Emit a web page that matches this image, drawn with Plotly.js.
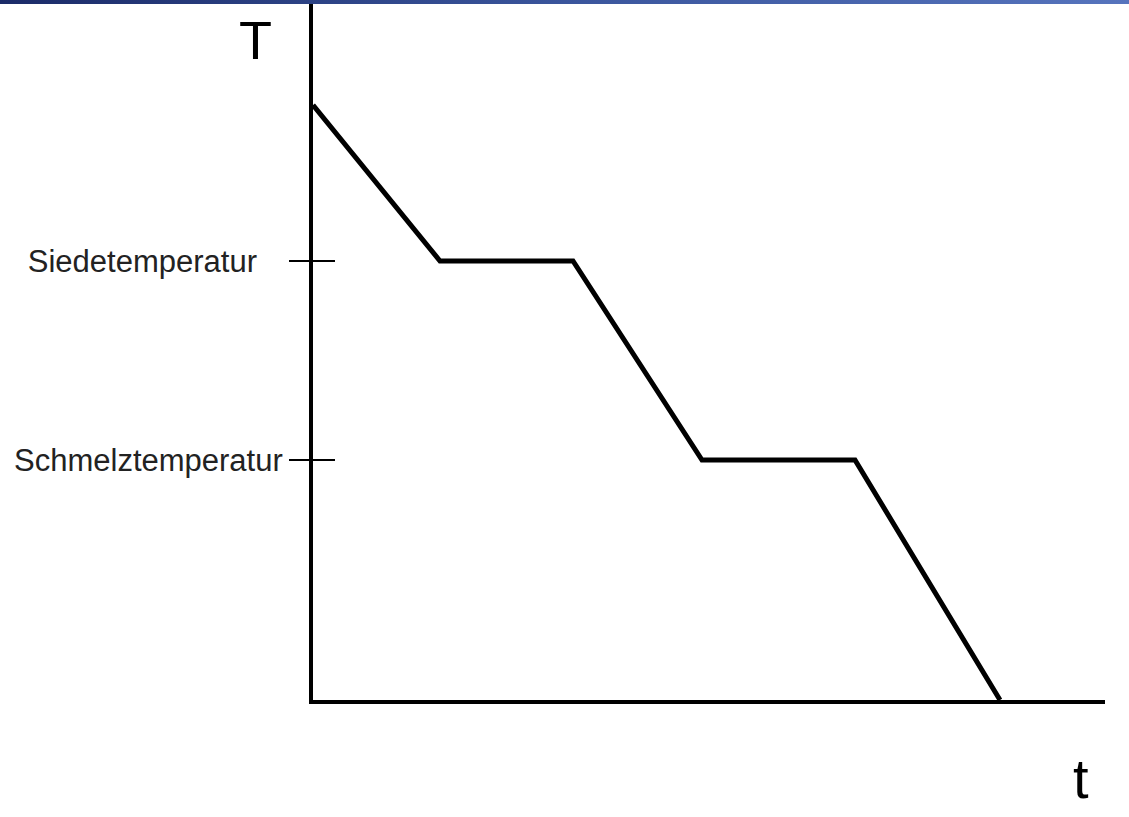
<!DOCTYPE html>
<html>
<head>
<meta charset="utf-8">
<script src="https://cdn.plot.ly/plotly-3.0.1.min.js"></script>
<style>
  html, body { margin: 0; padding: 0; background: #ffffff; }
  #bar { position: absolute; left: 0; top: 0; width: 1129px; height: 4px;
         background: linear-gradient(to right, #1b2b68, #3a559c 50%, #5674bd); z-index: 5; }
  #chart { position: absolute; left: 0; top: 0; width: 1129px; height: 817px; }
</style>
</head>
<body>
<div id="bar"></div>
<div id="chart"></div>
<script>
// Schematic cooling curve (arbitrary units)
const timeValues = [0, 12.7, 26.0, 38.9, 54.2, 68.7];
const tempValues = [59.5, 43.9, 43.9, 24.0, 24.0, 0];
const tickValues = [43.9, 24.0];
const tickLabels = ['Siedetemperatur\u00a0\u00a0\u00a0', 'Schmelztemperatur'];
const xAxisLabel = 't';
const yAxisLabel = 'T';

const FONT = 'Arial, "Liberation Sans", sans-serif';

const trace = {
  x: timeValues,
  y: tempValues,
  mode: 'lines',
  line: { color: '#000000', width: 5 },
  cliponaxis: false,
  hoverinfo: 'skip'
};

const layout = {
  width: 1129,
  height: 817,
  margin: { l: 313, r: 24, t: 4, b: 117 },
  paper_bgcolor: '#ffffff',
  plot_bgcolor: '#ffffff',
  showlegend: false,
  xaxis: {
    range: [0, 79.2],
    showline: true, linecolor: '#000000', linewidth: 4,
    showgrid: false, zeroline: false,
    showticklabels: false, ticks: ''
  },
  yaxis: {
    range: [0, 69.6],
    showline: true, linecolor: '#000000', linewidth: 4,
    showgrid: false, zeroline: false,
    tickmode: 'array', tickvals: tickValues, ticktext: tickLabels,
    ticks: 'outside', ticklen: 20, tickwidth: 2, tickcolor: '#000000',
    ticklabelstandoff: 0,
    tickfont: { family: FONT, size: 31, color: '#222222' },
    minor: { tickmode: 'array', tickvals: tickValues, ticks: 'inside', ticklen: 22, tickwidth: 2, tickcolor: '#000000', showgrid: false }
  },
  annotations: [
    { text: yAxisLabel, xref: 'paper', yref: 'paper', x: -0.0732, y: 0.948,
      xanchor: 'center', yanchor: 'middle', showarrow: false,
      font: { family: FONT, size: 54, color: '#000000' } },
    { text: xAxisLabel, xref: 'paper', yref: 'paper', x: 0.9697, y: -0.1135,
      xanchor: 'center', yanchor: 'middle', showarrow: false,
      font: { family: FONT, size: 56, color: '#000000' } }
  ]
};

Plotly.newPlot('chart', [trace], layout, { displayModeBar: false, staticPlot: true });
</script>
</body>
</html>
